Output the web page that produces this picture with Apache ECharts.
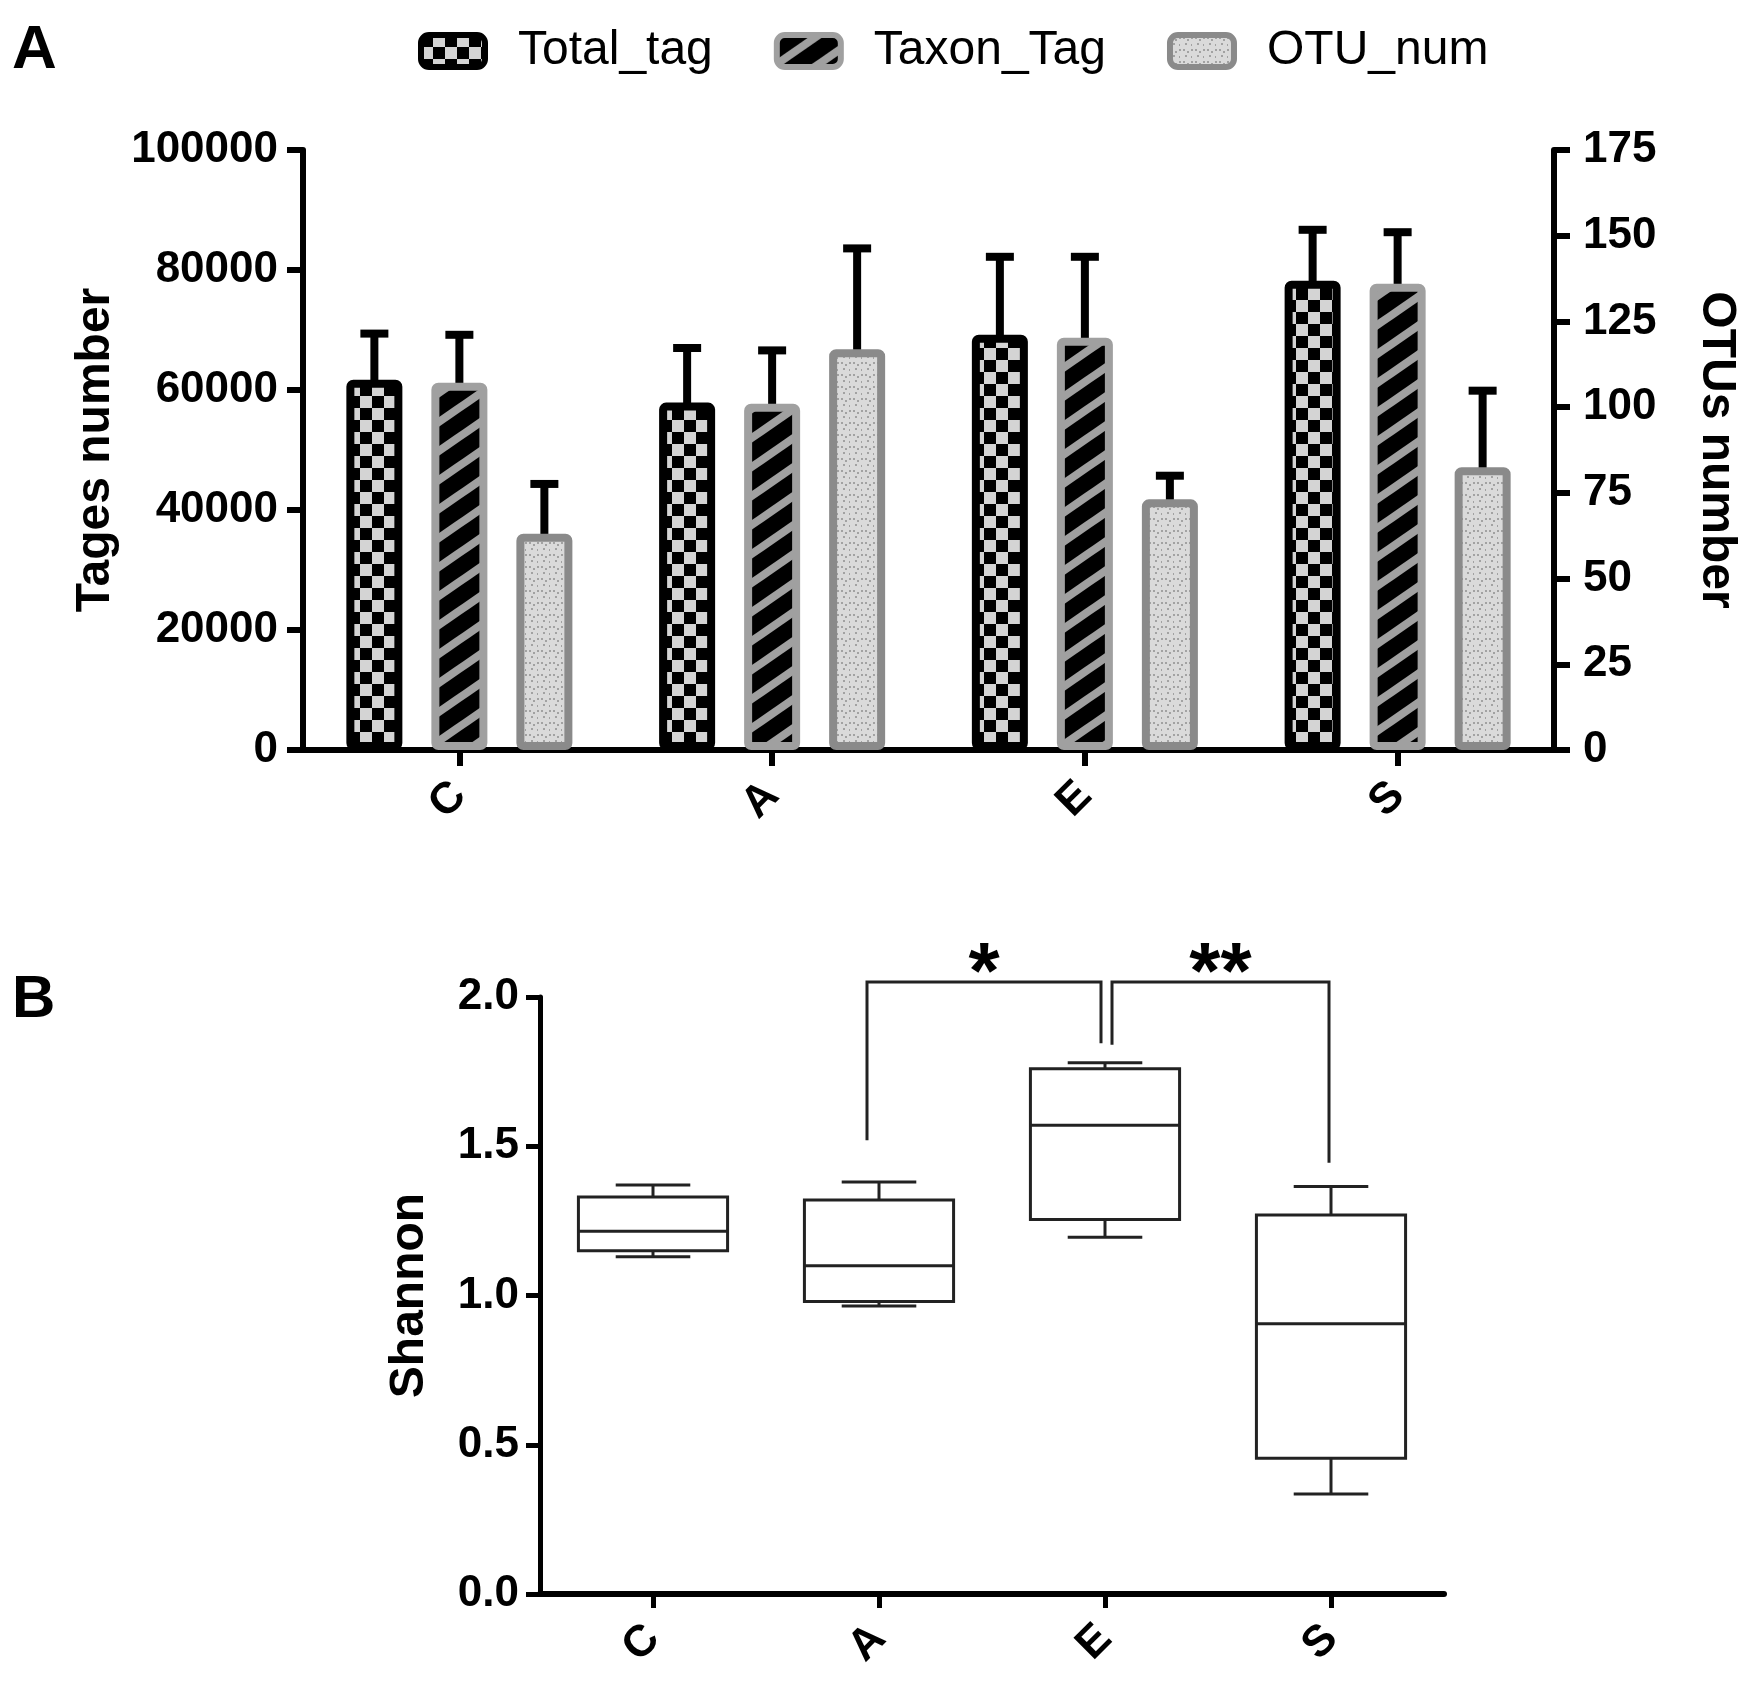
<!DOCTYPE html>
<html>
<head>
<meta charset="utf-8">
<script src="https://cdn.jsdelivr.net/npm/echarts@6/dist/echarts.min.js"></script>
<style>
  html, body { margin: 0; padding: 0; background: #fff; }
  #chart { width: 1761px; height: 1688px; }
</style>
</head>
<body>
<div id="chart"></div>
<script>
// panel A data
const groups = ['C', 'A', 'E', 'S'];
const seriesNames = ['Total_tag', 'Taxon_Tag', 'OTU_num'];
const totalTag = [61700, 57900, 69200, 78200];
const totalErr = [7700, 9100, 13000, 8500];
const taxonTag = [61200, 57700, 68700, 77700];
const taxonErr = [8000, 8900, 13500, 8600];
const otuNum = [63.1, 116.9, 73.1, 82.5];
const otuErr = [14.5, 29.4, 6.9, 22.3];
const tagAxisMax = 100000, tagAxisStep = 20000;
const otuAxisMax = 175, otuAxisStep = 25;

// panel B data (box plot: min, q1, median, q3, max)
const shannonMin = [1.13, 0.965, 1.195, 0.335];
const shannonQ1 = [1.15, 0.98, 1.255, 0.455];
const shannonMedian = [1.215, 1.10, 1.57, 0.905];
const shannonQ3 = [1.33, 1.32, 1.76, 1.27];
const shannonMax = [1.37, 1.38, 1.78, 1.365];
const shannonAxisMax = 2, shannonAxisStep = 0.5;

// significance brackets
const sigFrom = ['A', 'E'];
const sigTo = ['E', 'S'];
const sigMark = ['*', '**'];
const sigTop = [2.05, 2.05];
const sigFromEnd = [1.52, 1.84];
const sigToEnd = [1.845, 1.445];

const FONT = 'Liberation Sans, Arial, sans-serif';
const BAR_W = 56;
const BAR_GAP_PX = 29;
const BRACKET_NUDGE = [[-12, -4], [7, -2]]; // px shift of bracket legs

function makeTile(w, h, draw) {
  const c = document.createElement('canvas');
  c.width = w; c.height = h;
  draw(c.getContext('2d'), w, h);
  return c;
}
const checker = makeTile(24, 24, (g) => {
  g.fillStyle = '#d4d4d4'; g.fillRect(0, 0, 24, 24);
  g.fillStyle = '#000'; g.fillRect(0, 0, 12, 12); g.fillRect(12, 12, 12, 12);
});
const stripes = makeTile(42, 29, (g, w, h) => {
  g.fillStyle = '#000'; g.fillRect(0, 0, w, h);
  g.strokeStyle = '#a0a0a0'; g.lineWidth = 8;
  [-w, 0, w].forEach(dx => {
    g.beginPath(); g.moveTo(dx - w, 2 * h); g.lineTo(dx + 2 * w, -h); g.stroke();
  });
});
const dots = makeTile(12, 12, (g) => {
  g.fillStyle = '#dadada'; g.fillRect(0, 0, 12, 12);
  g.fillStyle = '#a2a2a2';
  g.fillRect(1, 2, 2, 2); g.fillRect(5, 4, 2, 2); g.fillRect(9, 2, 2, 2);
  g.fillRect(3, 8, 2, 2); g.fillRect(9, 9, 1, 2);
});

const fills = [checker, stripes, dots];
const borders = ['#000', '#a0a0a0', '#8a8a8a'];
const values = [totalTag, taxonTag, otuNum];
const errors = [totalErr, taxonErr, otuErr];

const barSeries = values.map((v, k) => ({
  type: 'bar',
  name: seriesNames[k],
  xAxisIndex: 0,
  yAxisIndex: k === 2 ? 1 : 0,
  data: v,
  barWidth: BAR_W,
  barGap: (BAR_GAP_PX / BAR_W * 100).toFixed(1) + '%',
  z: 3,
  itemStyle: {
    color: { image: fills[k], repeat: 'repeat' },
    borderColor: borders[k],
    borderWidth: 8,
    borderRadius: 3
  }
}));

const errSeries = values.map((v, k) => ({
  type: 'custom',
  xAxisIndex: 0,
  yAxisIndex: k === 2 ? 1 : 0,
  z: 2,
  silent: true,
  data: v.map((val, i) => [i, val, errors[k][i]]),
  encode: { x: 0, y: 1 },
  renderItem: (params, api) => {
    const i = api.value(0), val = api.value(1), e = api.value(2);
    const base = api.coord([i, val]);
    const top = api.coord([i, val + e]);
    const x = base[0] + (k - 1) * (BAR_W + BAR_GAP_PX);
    return {
      type: 'group',
      children: [
        { type: 'rect', shape: { x: x - 4, y: top[1], width: 8, height: base[1] - top[1] + 4 }, style: { fill: '#000' } },
        { type: 'rect', shape: { x: x - 14, y: top[1] - 4, width: 28, height: 8 }, style: { fill: '#000' } }
      ]
    };
  }
}));

const boxSeries = {
  type: 'custom',
  xAxisIndex: 1,
  yAxisIndex: 2,
  silent: true,
  data: groups.map((g, i) => [i, shannonMin[i], shannonQ1[i], shannonMedian[i], shannonQ3[i], shannonMax[i]]),
  encode: { x: 0, y: [1, 5] },
  renderItem: (params, api) => {
    const i = api.value(0);
    const band = api.size([1, 0])[0];
    const half = band * 0.33, cap = band * 0.165;
    const x = api.coord([i, 0])[0];
    const y = (j) => api.coord([i, api.value(j)])[1];
    const ln = { stroke: '#222', lineWidth: 3 };
    const line = (x1, y1, x2, y2) => ({ type: 'line', shape: { x1, y1, x2, y2 }, style: ln });
    return {
      type: 'group',
      children: [
        { type: 'rect', shape: { x: x - half, y: y(4), width: half * 2, height: y(2) - y(4) }, style: { fill: 'none', stroke: '#222', lineWidth: 3 } },
        line(x - half, y(3), x + half, y(3)),
        line(x, y(4), x, y(5)),
        line(x, y(2), x, y(1)),
        line(x - cap, y(5), x + cap, y(5)),
        line(x - cap, y(1), x + cap, y(1))
      ]
    };
  }
};

const sigSeries = {
  type: 'custom',
  xAxisIndex: 1,
  yAxisIndex: 2,
  silent: true,
  clip: false,
  data: sigFrom.map((f, k) => [groups.indexOf(f), groups.indexOf(sigTo[k]), sigTop[k], sigFromEnd[k], sigToEnd[k]]),
  encode: { x: 0, y: 2 },
  renderItem: (params, api) => {
    const k = params.dataIndex;
    const xf = api.coord([api.value(0), 0])[0] + BRACKET_NUDGE[k][0];
    const xt = api.coord([api.value(1), 0])[0] + BRACKET_NUDGE[k][1];
    const yTop = api.coord([0, api.value(2)])[1];
    const yF = api.coord([0, api.value(3)])[1];
    const yT = api.coord([0, api.value(4)])[1];
    return {
      type: 'group',
      children: [
        { type: 'polyline', shape: { points: [[xf, yF], [xf, yTop], [xt, yTop], [xt, yT]] }, style: { fill: 'none', stroke: '#222', lineWidth: 3 } },
        { type: 'text', x: (xf + xt) / 2, y: yTop - 6, style: { text: sigMark[k], fontSize: 80, fontWeight: 'bold', fontFamily: FONT, fill: '#000', align: 'center', verticalAlign: 'middle' } }
      ]
    };
  }
};

const tickLabel = { color: '#000', fontWeight: 'bold', fontSize: 44, fontFamily: FONT };

const option = {
  animation: false,
  backgroundColor: '#fff',
  textStyle: { fontFamily: FONT, color: '#000' },
  legend: {
    data: seriesNames,
    left: 413,
    top: 22,
    icon: 'roundRect',
    itemWidth: 64,
    itemHeight: 32,
    itemGap: 61,
    selectedMode: false,
    itemStyle: { borderWidth: 6 },
    textStyle: { fontSize: 48, color: '#000', fontFamily: FONT, padding: [0, 0, 0, 28] }
  },
  grid: [
    { left: 303, top: 150, width: 1251, height: 600, outerBoundsMode: 'none', containLabel: false },
    { left: 540, top: 997, width: 904, height: 597, outerBoundsMode: 'none', containLabel: false }
  ],
  xAxis: [
    {
      type: 'category', gridIndex: 0, data: groups,
      axisLine: { show: true, lineStyle: { color: '#000', width: 6 } },
      axisTick: { show: true, alignWithLabel: true, length: 16, lineStyle: { color: '#000', width: 6 } },
      axisLabel: Object.assign({ rotate: 45, margin: 39 }, tickLabel),
      splitLine: { show: false }
    },
    {
      type: 'category', gridIndex: 1, data: groups,
      axisLine: { show: true, lineStyle: { color: '#000', width: 6 } },
      axisTick: { show: true, alignWithLabel: true, length: 14, lineStyle: { color: '#000', width: 5 } },
      axisLabel: Object.assign({ rotate: 45, margin: 38 }, tickLabel),
      splitLine: { show: false }
    }
  ],
  yAxis: [
    {
      type: 'value', gridIndex: 0, position: 'left', min: 0, max: tagAxisMax, interval: tagAxisStep,
      name: 'Tages number', nameLocation: 'middle', nameGap: 183,
      nameTextStyle: { fontSize: 48, fontWeight: 'bold', color: '#000', fontFamily: FONT },
      axisLine: { show: true, lineStyle: { color: '#000', width: 6 } },
      axisTick: { show: true, length: 16, lineStyle: { color: '#000', width: 6 } },
      axisLabel: Object.assign({ margin: 25, formatter: (v) => String(v) }, tickLabel),
      splitLine: { show: false }
    },
    {
      type: 'value', gridIndex: 0, position: 'right', min: 0, max: otuAxisMax, interval: otuAxisStep,
      name: 'OTUs number', nameLocation: 'middle', nameGap: 138, nameRotate: -90,
      nameTextStyle: { fontSize: 48, fontWeight: 'bold', color: '#000', fontFamily: FONT },
      axisLine: { show: true, lineStyle: { color: '#000', width: 6 } },
      axisTick: { show: true, length: 16, lineStyle: { color: '#000', width: 6 } },
      axisLabel: Object.assign({ margin: 29, formatter: (v) => String(v) }, tickLabel),
      splitLine: { show: false }
    },
    {
      type: 'value', gridIndex: 1, min: 0, max: shannonAxisMax, interval: shannonAxisStep,
      name: 'Shannon', nameLocation: 'middle', nameGap: 106,
      nameTextStyle: { fontSize: 48, fontWeight: 'bold', color: '#000', fontFamily: FONT },
      axisLine: { show: true, lineStyle: { color: '#000', width: 5 } },
      axisTick: { show: true, length: 14, lineStyle: { color: '#000', width: 5 } },
      axisLabel: Object.assign({ margin: 21, formatter: (v) => v.toFixed(1) }, tickLabel),
      splitLine: { show: false }
    }
  ],
  graphic: [
    { type: 'text', left: 12, top: 20, style: { text: 'A', fontSize: 62, fontWeight: 'bold', fontFamily: FONT, fill: '#000' } },
    { type: 'text', left: 12, top: 970, style: { text: 'B', fontSize: 60, fontWeight: 'bold', fontFamily: FONT, fill: '#000' } }
  ],
  series: [...barSeries, ...errSeries, boxSeries, sigSeries]
};

const chart = echarts.init(document.getElementById('chart'));
chart.setOption(option);
</script>
</body>
</html>
